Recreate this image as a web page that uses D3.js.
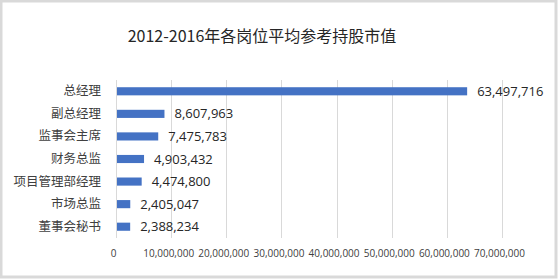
<!DOCTYPE html>
<html>
<head>
<meta charset="utf-8">
<script src="https://cdn.jsdelivr.net/npm/d3@7"></script>
<style>
  body { margin: 0; background: #fff; }
  svg { display: block; font-family: "Noto Sans CJK SC", "Noto Sans", sans-serif; }
</style>
</head>
<body>
<div id="chart"></div>
<script>
var title = '2012-2016年各岗位平均参考持股市值';
var positions = ['总经理', '副总经理', '监事会主席', '财务总监', '项目管理部经理', '市场总监', '董事会秘书'];
var values = [63497716, 8607963, 7475783, 4903432, 4474800, 2405047, 2388234];
var ticks = [0, 10000000, 20000000, 30000000, 40000000, 50000000, 60000000, 70000000];

var width = 558, height = 280;
var plotLeft = 116, plotRight = 502, plotTop = 80, plotBottom = 238;
var numFont = '"Open Sans", "Liberation Sans", sans-serif';

var svg = d3.select('#chart')
    .append('svg')
    .attr('width', width)
    .attr('height', height);

// grey frame around the chart
svg.append('rect')
    .attr('x', 1).attr('y', 1)
    .attr('width', width - 3).attr('height', height - 4)
    .attr('fill', '#fff')
    .attr('stroke', '#d9d9d9')
    .attr('stroke-width', 3);

svg.append('text')
    .attr('x', 262)
    .attr('y', 42)
    .attr('text-anchor', 'middle')
    .style('font-size', '16px')
    .style('fill', '#262626')
    .text(title);

var x = d3.scaleLinear().domain([0, 70000000]).range([plotLeft, plotRight]);
var y = d3.scaleBand().domain(positions).range([plotTop, plotBottom]).paddingInner(0.64).paddingOuter(0.32);

var fmt = d3.format(',');

// gridlines
svg.append('g')
    .selectAll('line')
    .data(ticks)
    .enter()
    .append('line')
    .attr('x1', d => Math.round(x(d)) + 0.5)
    .attr('x2', d => Math.round(x(d)) + 0.5)
    .attr('y1', plotTop)
    .attr('y2', plotBottom)
    .attr('stroke', '#d9d9d9')
    .style('stroke-width', '1px');

var xAxis = svg.append('g')
    .attr('transform', 'translate(-3,' + (plotBottom + 9) + ')')
    .call(d3.axisBottom(x).tickValues(ticks).tickFormat(fmt).tickSize(0));
xAxis.select('.domain').remove();
xAxis.selectAll('text')
    .style('font-size', '10px')
    .style('fill', '#404040')
    .style('font-family', numFont);

var yAxis = svg.append('g')
    .attr('transform', 'translate(' + (plotLeft - 12) + ',0)')
    .call(d3.axisLeft(y).tickSize(0));
yAxis.select('.domain').remove();
yAxis.selectAll('text')
    .style('font-size', '12.5px')
    .style('fill', '#404040')
    .style('font-family', '"Noto Sans CJK SC", sans-serif');

svg.append('g')
    .selectAll('rect')
    .data(values)
    .enter()
    .append('rect')
    .attr('x', x(0) + 1)
    .attr('y', (d, i) => y(positions[i]))
    .attr('width', d => x(d) - x(0))
    .attr('height', y.bandwidth())
    .attr('fill', '#4472c4');

svg.append('g')
    .selectAll('text')
    .data(values)
    .enter()
    .append('text')
    .attr('x', d => x(d) + 11)
    .attr('y', (d, i) => y(positions[i]) + y.bandwidth() / 2)
    .attr('dy', '0.35em')
    .style('font-size', '13px')
    .style('fill', '#262626')
    .style('font-family', numFont)
    .text(d => fmt(d));
</script>
</body>
</html>
